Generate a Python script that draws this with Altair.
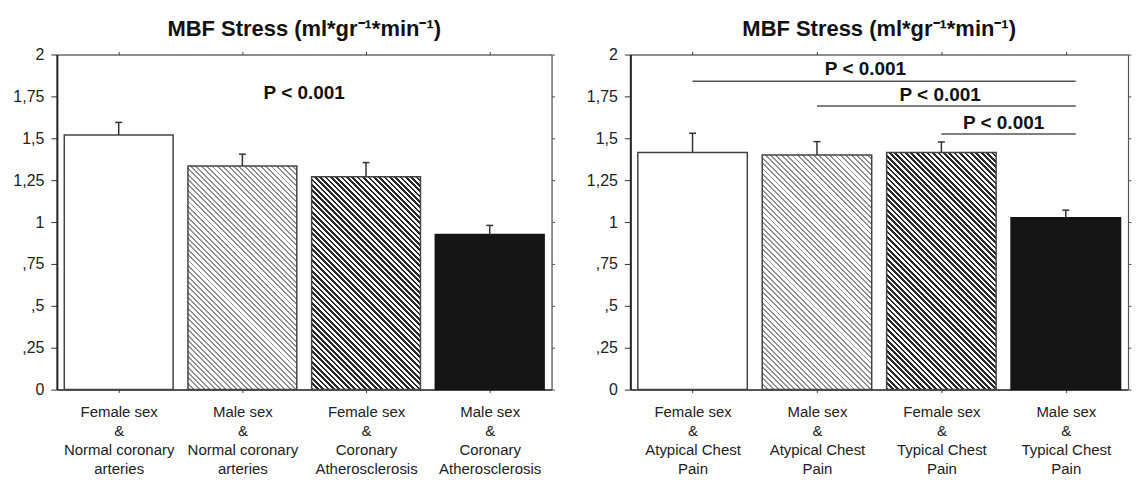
import json
import altair as alt
import pandas as pd

# ---------------- data ----------------
left_labels = [
    "Female sex|&|Normal coronary|arteries",
    "Male sex|&|Normal coronary|arteries",
    "Female sex|&|Coronary|Atherosclerosis",
    "Male sex|&|Coronary|Atherosclerosis",
]
left_means = [1.52, 1.335, 1.27, 0.925]
left_errs = [0.075, 0.07, 0.085, 0.055]

right_labels = [
    "Female sex|&|Atypical Chest|Pain",
    "Male sex|&|Atypical Chest|Pain",
    "Female sex|&|Typical Chest|Pain",
    "Male sex|&|Typical Chest|Pain",
]
right_means = [1.415, 1.40, 1.415, 1.025]
right_errs = [0.115, 0.08, 0.063, 0.046]

# significance annotations
left_sig_text = ["P < 0.001"]
left_sig_text_x = [2.0]
left_sig_text_y = [1.73]

right_sig_start = [0.5, 1.5, 2.5]
right_sig_end = [3.58, 3.58, 3.58]
right_sig_y = [1.841, 1.692, 1.526]
right_sig_text = ["P < 0.001", "P < 0.001", "P < 0.001"]
right_sig_text_x = [1.89, 2.49, 3.0]
right_sig_text_y = [1.872, 1.716, 1.548]

y_tick_values = [0, 0.25, 0.5, 0.75, 1, 1.25, 1.5, 1.75, 2]
y_tick_labels = ["0", ",25", ",5", ",75", "1", "1,25", "1,5", "1,75", "2"]

title_text = "MBF Stress (ml*gr\u207b\u00b9*min\u207b\u00b9)"

# ---------------- style ----------------
FONT = "Liberation Sans"
PLOT_H = 336
LEFT_W = 496
RIGHT_W = 499
BAR_FRAC = 0.88
PX_PER_UNIT = PLOT_H / 2.0


def hatch(w, h, line_color, bg, period=5.4, frac=0.4):
    """Diagonal '\\' stripes built from a linear gradient with hard stops."""
    c = (w + h) / (w * w + h * h)
    n = max(1, int(round((w + h) / period)))
    stops = []
    for j in range(n):
        a = j / n
        b = (j + frac) / n
        e = (j + 1) / n
        stops += [
            {"offset": a, "color": line_color},
            {"offset": b, "color": line_color},
            {"offset": b, "color": bg},
            {"offset": e, "color": bg},
        ]
    return {
        "gradient": "linear",
        "x1": 0, "y1": 1,
        "x2": c * w, "y2": 1 - c * h,
        "stops": stops,
    }


def panel(labels, means, errs, width, sig_lines, sig_texts):
    df = pd.DataFrame({"i": list(range(len(means))), "label": labels,
                       "mean": means, "err": errs})
    xs = alt.Scale(domain=[0, 4], nice=False, zero=False)
    ys = alt.Scale(domain=[0, 2], nice=False, zero=True)

    lab_expr = "split(" + json.dumps(labels) + "[floor(datum.value)], '|')"
    ylab_expr = json.dumps(y_tick_labels) + "[round(datum.value * 4)]"

    x_axis_bottom = alt.Axis(values=[0.5, 1.5, 2.5, 3.5], labelExpr=lab_expr,
                             labelFont=FONT, labelFontSize=15, labelColor="#222",
                             labelLineHeight=19, labelPadding=12, labelAngle=0,
                             tickSize=3, tickColor="#444", domainColor="#222",
                             domainWidth=1.5, grid=False, title=None,
                             labelBaseline="top")
    y_axis_left = alt.Axis(values=y_tick_values, labelExpr=ylab_expr,
                           labelFont=FONT, labelFontSize=16, labelColor="#222",
                           labelPadding=7, tickSize=6, tickColor="#333",
                           domainColor="#222", domainWidth=2, grid=False,
                           title=None)
    x_axis_top = alt.Axis(orient="top", values=[0.5, 1.5, 2.5, 3.5],
                          labels=False, tickSize=3, tickColor="#444",
                          domainColor="#333", domainWidth=1.2, grid=False,
                          title=None)
    y_axis_right = alt.Axis(orient="right", values=y_tick_values, labels=False,
                            tickSize=3, tickColor="#555", domainColor="#555",
                            domainWidth=1.2, grid=False, title=None)

    bar_w = BAR_FRAC * width / 4.0
    layers = []
    base = alt.Chart(df).transform_calculate(
        x0="datum.i + 0.06", x1="datum.i + 0.94",
        xc="datum.i + 0.5", cl="datum.i + 0.472", cr="datum.i + 0.528",
        top="datum.mean + datum.err",
    )
    for k in range(4):
        h = means[k] * PX_PER_UNIT
        if k == 1:
            fill = hatch(bar_w, h, "#909090", "#ffffff", period=5.4, frac=0.36)
        elif k == 2:
            fill = hatch(bar_w, h, "#2a2a2a", "#ffffff", period=5.4, frac=0.5)
        elif k == 3:
            fill = "#151515"
        else:
            fill = "#ffffff"
        stroke = "#151515" if k == 3 else "#444444"
        enc_x = alt.X("x0:Q", scale=xs, axis=x_axis_bottom if k == 0 else None)
        enc_y = alt.Y("mean:Q", scale=ys, axis=y_axis_left if k == 0 else None)
        layers.append(
            base.transform_filter(f"datum.i == {k}")
            .mark_bar(fill=fill, stroke=stroke, strokeWidth=1.5)
            .encode(x=enc_x, x2="x1:Q", y=enc_y, y2=alt.datum(0))
        )

    # error bars (upper only) -- this layer carries the top/right axes
    layers.append(
        base.mark_rule(color="#333333", strokeWidth=1.5).encode(
            x=alt.X("xc:Q", scale=xs, axis=x_axis_top),
            y=alt.Y("mean:Q", scale=ys, axis=y_axis_right),
            y2="top:Q",
        )
    )
    layers.append(
        base.mark_rule(color="#333333", strokeWidth=1.5).encode(
            x=alt.X("cl:Q", scale=xs, axis=None),
            x2="cr:Q",
            y=alt.Y("top:Q", scale=ys, axis=None),
        )
    )

    if sig_lines is not None:
        layers.append(
            alt.Chart(sig_lines).mark_rule(color="#555555", strokeWidth=1.5).encode(
                x=alt.X("x0:Q", scale=xs, axis=None),
                x2="x1:Q",
                y=alt.Y("y:Q", scale=ys, axis=None),
            )
        )
    layers.append(
        alt.Chart(sig_texts).mark_text(font=FONT, fontSize=19, fontWeight="bold",
                                       color="#111111", baseline="alphabetic",
                                       align="center", dy=-1).encode(
            x=alt.X("x:Q", scale=xs, axis=None),
            y=alt.Y("y:Q", scale=ys, axis=None),
            text="t:N",
        )
    )

    return alt.layer(*layers).resolve_axis(x="independent", y="independent").properties(
        width=width, height=PLOT_H,
        title=alt.TitleParams(text=title_text, font=FONT, fontSize=22,
                              fontWeight="bold", color="#111111", offset=6,
                              anchor="middle"),
    )


left_texts = pd.DataFrame({"x": left_sig_text_x, "y": left_sig_text_y,
                           "t": left_sig_text})
right_lines = pd.DataFrame({"x0": right_sig_start, "x1": right_sig_end,
                            "y": right_sig_y})
right_texts = pd.DataFrame({"x": right_sig_text_x, "y": right_sig_text_y,
                            "t": right_sig_text})

left = panel(left_labels, left_means, left_errs, LEFT_W, None, left_texts)
right = panel(right_labels, right_means, right_errs, RIGHT_W, right_lines, right_texts)

chart = alt.hconcat(left, right, spacing=30).properties(
    padding={"left": 4, "top": 8, "right": 0, "bottom": 0}
).configure_view(stroke=None).configure(font=FONT, background="white")

chart.save("out.html", embed_options={"renderer": "svg", "actions": False})
